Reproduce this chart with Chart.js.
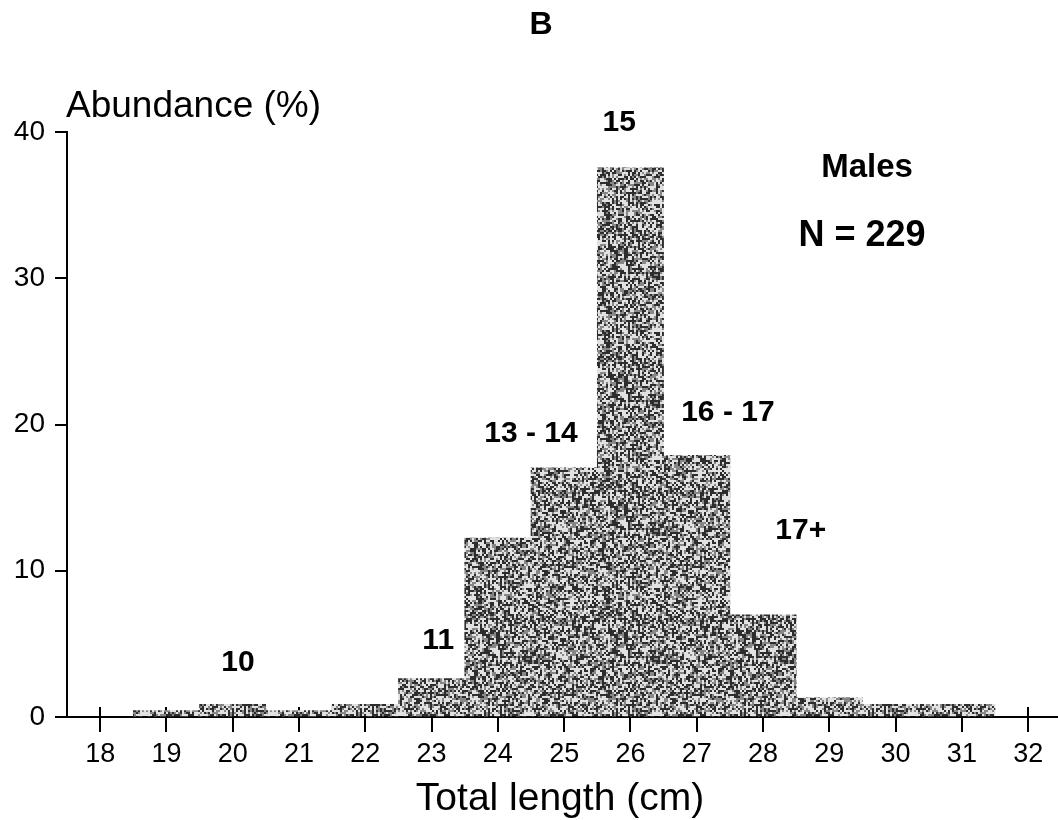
<!DOCTYPE html>
<html>
<head>
<meta charset="utf-8">
<title>Males — total length distribution</title>
<script src="https://cdn.jsdelivr.net/npm/chart.js@4/dist/chart.umd.min.js"></script>
<style>
  html, body { margin: 0; padding: 0; background: #ffffff; }
  #wrap { width: 1058px; height: 820px; }
</style>
</head>
<body>
<div id="wrap"><canvas id="chart" width="1058" height="820"></canvas></div>
<script>
// Length classes (cm, bin centres) and the share of males in each class (%)
const lengthClasses = [19, 20, 21, 22, 23, 24, 25, 26, 27, 28, 29, 30, 31];
const abundance     = [0.44, 0.87, 0.44, 0.87, 2.62, 12.23, 17.03, 37.55, 17.90, 6.99, 1.31, 0.87, 0.87];

// Axis tick labels
const xTicks = [18, 19, 20, 21, 22, 23, 24, 25, 26, 27, 28, 29, 30, 31, 32];
const yTicks = [0, 10, 20, 30, 40];

// Age-group labels written over the histogram
const ageGroups = ['10', '11', '13 - 14', '15', '16 - 17', '17+'];

const FONT = '"Liberation Sans", Arial, Helvetica, sans-serif';

// Speckled grey fill, like a printed halftone screen
function speckleFill() {
  const size = 128;
  const c = document.createElement('canvas');
  c.width = size; c.height = size;
  const g = c.getContext('2d');
  const img = g.createImageData(size, size);
  for (let y = 0; y < size; y++) {
    for (let x = 0; x < size; x++) {
      const gx = x >> 1, gy = y >> 1;
      let n = Math.imul(gx, 73856093) ^ Math.imul(gy, 19349663) ^ Math.imul((gx >> 2), 83492791);
      n = Math.imul(n ^ (n >>> 13), 1274126177);
      n ^= n >>> 16;
      const v = (n & 255) / 255;
      const shade = v < 0.36 ? 45 : v < 0.62 ? 135 : 225;
      const i = (y * size + x) * 4;
      img.data[i] = img.data[i + 1] = img.data[i + 2] = shade;
      img.data[i + 3] = 255;
    }
  }
  g.putImageData(img, 0, 0);
  return document.getElementById('chart').getContext('2d').createPattern(c, 'repeat');
}

// Short tick stubs above the x axis (hidden under the bars where they overlap)
const crossTicks = {
  id: 'crossTicks',
  beforeDatasetsDraw(chart) {
    const { ctx, scales: { x, y } } = chart;
    const y0 = y.getPixelForValue(0);
    ctx.save();
    ctx.strokeStyle = '#000';
    ctx.lineWidth = 2;
    xTicks.forEach(v => {
      const px = Math.round(x.getPixelForValue(v));
      ctx.beginPath();
      ctx.moveTo(px, y0 - 10);
      ctx.lineTo(px, y0);
      ctx.stroke();
    });
    ctx.restore();
  }
};

// Panel letter, axis titles, sample note and age-group labels
const chartText = {
  id: 'chartText',
  afterDraw(chart) {
    const { ctx, scales: { x, y } } = chart;
    ctx.save();
    ctx.fillStyle = '#000';

    ctx.font = 'bold 32px ' + FONT;
    ctx.textAlign = 'center';
    ctx.textBaseline = 'middle';
    ctx.fillText('B', 541, 25);

    ctx.font = '37px ' + FONT;
    ctx.textAlign = 'left';
    ctx.textBaseline = 'alphabetic';
    ctx.fillText('Abundance (%)', 66, 117);

    ctx.font = '39px ' + FONT;
    ctx.textAlign = 'center';
    ctx.fillText('Total length (cm)', 560, 810);

    ctx.textBaseline = 'middle';
    ctx.font = 'bold 33px ' + FONT;
    ctx.fillText('Males', 867, 168);
    ctx.font = 'bold 36px ' + FONT;
    ctx.fillText('N = 229', 862, 236);

    // anchors in data units: [length, abundance]
    const anchors = [[20.08, 3.69], [23.10, 5.2], [24.50, 19.35], [25.83, 40.65], [27.47, 20.8], [28.57, 12.72]];
    ctx.font = 'bold 30px ' + FONT;
    ageGroups.forEach((t, i) => {
      const [ax, ay] = anchors[i];
      ctx.fillText(t, x.getPixelForValue(ax), y.getPixelForValue(ay));
    });
    ctx.restore();
  }
};

new Chart(document.getElementById('chart'), {
  type: 'bar',
  data: {
    datasets: [{
      data: lengthClasses.map((c, i) => ({ x: c, y: abundance[i] })),
      backgroundColor: speckleFill(),
      borderWidth: 0,
      barPercentage: 1.0,
      categoryPercentage: 1.0
    }]
  },
  options: {
    responsive: false,
    animation: false,
    events: [],
    layout: { padding: { top: 132, right: 0, bottom: 0, left: 0 } },
    plugins: { legend: { display: false }, tooltip: { enabled: false }, title: { display: false } },
    scales: {
      x: {
        type: 'linear',
        offset: false,
        min: 17.5,
        max: 32.45,
        afterBuildTicks: s => { s.ticks = xTicks.map(v => ({ value: v })); },
        afterFit: s => { s.height = 103; },
        grid: { display: true, offset: false, drawOnChartArea: false, drawTicks: true, tickLength: 15, color: '#000', lineWidth: 2 },
        border: { display: true, color: '#000', width: 2 },
        ticks: {
          autoSkip: false,
          maxRotation: 0,
          padding: 6,
          color: '#000',
          font: { family: FONT, size: 27 },
          callback: v => String(v)
        }
      },
      y: {
        min: 0,
        max: 40,
        afterBuildTicks: s => { s.ticks = yTicks.map(v => ({ value: v })); },
        afterFit: s => { s.width = 67; },
        grid: { display: true, drawOnChartArea: false, drawTicks: true, tickLength: 12, color: '#000', lineWidth: 2 },
        border: { display: true, color: '#000', width: 2 },
        ticks: {
          padding: 10,
          color: '#000',
          font: { family: FONT, size: 28 },
          callback: v => String(v)
        }
      }
    }
  },
  plugins: [crossTicks, chartText]
});
</script>
</body>
</html>
